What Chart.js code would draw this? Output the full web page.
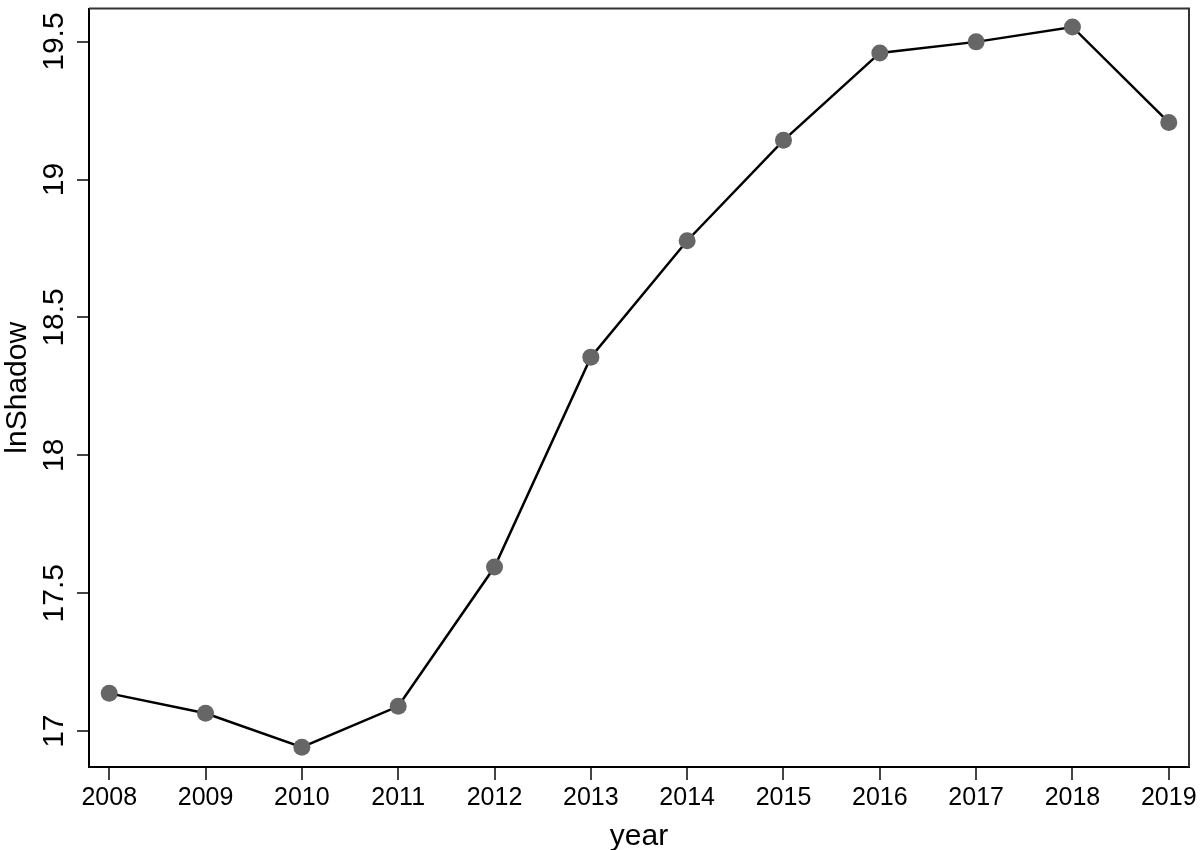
<!DOCTYPE html>
<html>
<head>
<meta charset="utf-8">
<title>lnShadow by year</title>
<script src="https://cdn.jsdelivr.net/npm/chart.js@4/dist/chart.umd.min.js"></script>
<style>
  html, body { margin: 0; padding: 0; background: #fff; }
  canvas { display: block; }
</style>
</head>
<body>
<canvas id="lnChart" width="1200" height="850"></canvas>
<script>
// data
const years = [2008, 2009, 2010, 2011, 2012, 2013, 2014, 2015, 2016, 2017, 2018, 2019];
const lnShadow = [17.137, 17.065, 16.942, 17.090, 17.595, 18.356, 18.778, 19.142, 19.459, 19.499, 19.553, 19.207];
const yTicks = [17, 17.5, 18, 18.5, 19, 19.5];
const yTickLabels = ['17', '17.5', '18', '18.5', '19', '19.5'];

const FONT = 'Liberation Sans, Arial, Helvetica, sans-serif';

// rotated y tick labels (Stata style) plus top/right frame of the plot region
const stataFrame = {
    id: 'stataFrame',
    afterDraw(chart) {
        const ctx = chart.ctx;
        const area = chart.chartArea;
        const yScale = chart.scales.y;

        ctx.save();
        ctx.strokeStyle = '#333';
        ctx.lineWidth = 2;
        ctx.beginPath();
        ctx.moveTo(area.left, area.top);
        ctx.lineTo(area.right, area.top);
        ctx.lineTo(area.right, area.bottom);
        ctx.stroke();

        ctx.fillStyle = '#000';
        ctx.font = '30px ' + FONT;
        ctx.textAlign = 'center';
        ctx.textBaseline = 'alphabetic';
        yTicks.forEach((v, i) => {
            const y = yScale.getPixelForValue(v);
            ctx.save();
            ctx.translate(area.left - 26, y);
            ctx.rotate(-Math.PI / 2);
            ctx.fillText(yTickLabels[i], 0, 0);
            ctx.restore();
        });
        ctx.restore();
    }
};

const ctx = document.getElementById('lnChart').getContext('2d');
new Chart(ctx, {
    type: 'line',
    data: {
        datasets: [{
            label: 'lnShadow',
            data: years.map((yr, i) => ({ x: yr, y: lnShadow[i] })),
            borderColor: '#000',
            borderWidth: 2.5,
            pointRadius: 8.5,
            pointHoverRadius: 8.5,
            pointBackgroundColor: '#666',
            pointBorderWidth: 0,
            tension: 0,
            fill: false,
            clip: false
        }]
    },
    options: {
        responsive: false,
        animation: false,
        layout: { padding: { top: 4, right: 11, left: 0, bottom: 0 } },
        plugins: {
            legend: { display: false },
            tooltip: { enabled: false }
        },
        scales: {
            x: {
                type: 'linear',
                min: 2007.79,
                max: 2019.21,
                afterBuildTicks: s => { s.ticks = years.map(v => ({ value: v })); },
                afterFit: s => { s.height = 83; },
                ticks: {
                    color: '#000',
                    font: { family: FONT, size: 25 },
                    padding: 3,
                    maxRotation: 0,
                    callback: v => String(v)
                },
                grid: {
                    drawOnChartArea: false,
                    drawTicks: true,
                    tickLength: 13,
                    color: '#444',
                    lineWidth: 2
                },
                border: { display: true, color: '#000', width: 2 },
                title: {
                    display: true,
                    text: 'year',
                    color: '#000',
                    font: { family: FONT, size: 30, lineHeight: 1.0 },
                    padding: { top: 0, bottom: -2 }
                }
            },
            y: {
                min: 16.87,
                max: 19.62,
                afterBuildTicks: s => { s.ticks = yTicks.map(v => ({ value: v })); },
                afterFit: s => { s.width = 89; },
                ticks: { display: false },
                grid: {
                    drawOnChartArea: false,
                    drawTicks: true,
                    tickLength: 12,
                    color: '#444',
                    lineWidth: 2
                },
                border: { display: true, color: '#000', width: 2 },
                title: {
                    display: true,
                    text: 'lnShadow',
                    color: '#000',
                    font: { family: FONT, size: 30 },
                    padding: 0
                }
            }
        }
    },
    plugins: [stataFrame]
});
</script>
</body>
</html>
